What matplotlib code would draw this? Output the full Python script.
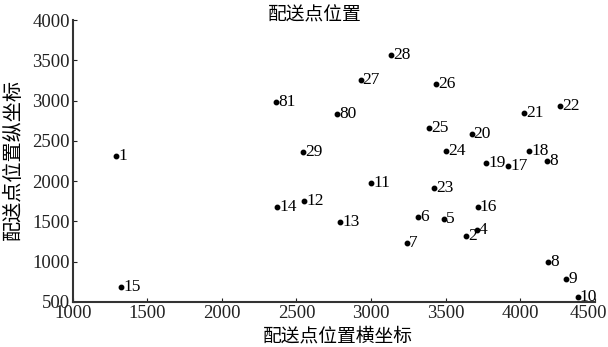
import matplotlib
matplotlib.use("Agg")
import matplotlib.pyplot as plt
import matplotlib.transforms as mtransforms

labels = ["1", "81", "29", "28", "27", "26", "80", "25", "20", "21", "22", "24", "18", "19", "17", "8",
          "11", "23", "12", "16", "13", "6", "5", "4", "2", "7", "8", "9", "10", "14", "15"]
xs = [1291, 2362, 2543, 3137, 2931, 3439, 2774, 3392, 3675, 4028, 4266, 3504, 4060, 3773, 3921, 4181,
      3003, 3424, 2554, 3715, 2792, 3318, 3487, 3708, 3636, 3240, 4190, 4311, 4387, 2371, 1325]
ys = [2315, 2978, 2357, 3561, 3254, 3213, 2833, 2655, 2584, 2849, 2936, 2373, 2377, 2221, 2191, 2246,
      1973, 1911, 1757, 1683, 1497, 1559, 1534, 1393, 1319, 1228, 1000, 785, 562, 1675, 690]
xticks = [1000, 1500, 2000, 2500, 3000, 3500, 4000, 4500]
yticks = [500, 1000, 1500, 2000, 2500, 3000, 3500, 4000]

serif = ["Liberation Serif", "DejaVu Serif"]
cjk = ["Noto Sans CJK SC", "DejaVu Sans"]

fig = plt.figure(figsize=(6.08, 3.47), dpi=100)
ax = fig.add_axes([0.1196, 0.1297, 0.978 - 0.1196, 0.942 - 0.1297])
ax.plot(xs, ys, linestyle="none", marker="o", markersize=3.2, color="black")
for x, y, t in zip(xs, ys, labels):
    ax.annotate(t, (x, y), xytext=(1.5, 0), textcoords="offset points",
                ha="left", va="center", fontsize=12.5, family=serif, color="black")
ax.set_xlim(1000, 4500)
ax.set_ylim(500, 4000)
ax.set_xticks(xticks)
ax.set_yticks(yticks)
ax.set_xticklabels([str(v) for v in xticks], family=serif, fontsize=13.5)
ax.set_yticklabels([str(v) for v in yticks], family=serif, fontsize=13.5)
ax.tick_params(direction="in", length=3, width=0.8, pad=2, colors="#222222")
last = ax.get_xticklabels()[-1]
last.set_transform(last.get_transform() + mtransforms.ScaledTranslation(-6 / 100, 0, fig.dpi_scale_trans))
for s in ["top", "right"]:
    ax.spines[s].set_visible(False)
for s in ["left", "bottom"]:
    ax.spines[s].set_linewidth(1.5)
    ax.spines[s].set_color("#333333")
fig.text(315 / 608, 1 - 15 / 347, "配送点位置", ha="center", va="center", family=cjk, fontsize=13.5)
fig.text(338 / 608, 1 - 336 / 347, "配送点位置横坐标", ha="center", va="center", family=cjk, fontsize=13.5)
fig.text(13 / 608, 1 - 160 / 347, "配送点位置纵坐标", ha="center", va="center", rotation=90, family=cjk, fontsize=14.5)
fig.savefig("out.png", dpi=100)
